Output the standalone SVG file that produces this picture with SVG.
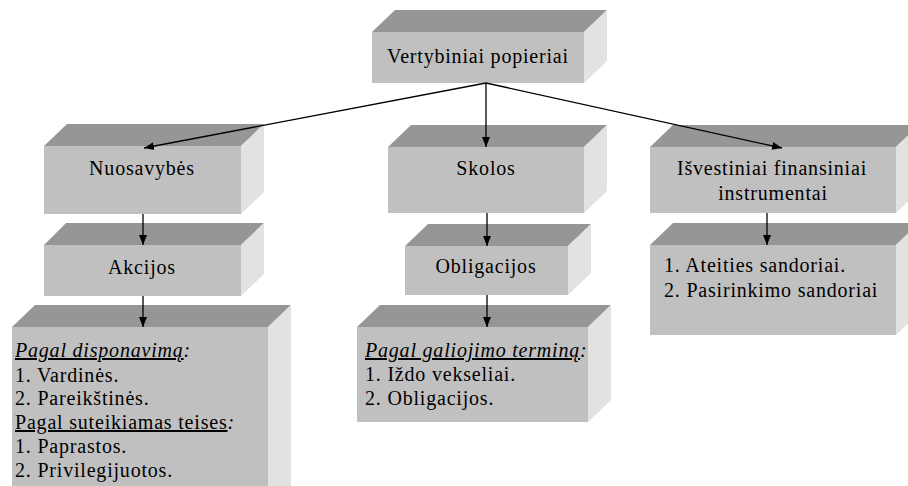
<svg xmlns="http://www.w3.org/2000/svg" width="908" height="486" viewBox="0 0 908 486" font-family="'Liberation Serif', serif">
<defs>
<style>
.front{fill:#c0c0c0}
.top{fill:#969696}
.side{fill:#e2e2e2}
text{font-family:'Liberation Serif','Times New Roman',serif;font-size:20px;fill:#000;letter-spacing:0.8px}
.c{text-anchor:middle}
.conn line{stroke:#000;stroke-width:1.3;marker-end:url(#ah)}
.u{text-decoration:underline}
.i{font-style:italic}
</style>
<marker id="ah" viewBox="0 0 10 10" refX="10" refY="5" markerWidth="10" markerHeight="10" markerUnits="userSpaceOnUse" orient="auto">
<path d="M0,1 L10,5 L0,9 Z" fill="#000"/>
</marker>
</defs>
<rect width="908" height="486" fill="#fff"/>

<g id="n-vertybiniai">
<polygon class="top" points="372,32 395,10 607,10 584,32"/>
<polygon class="side" points="584,32 607,10 607,61 584,83"/>
<rect class="front" x="372" y="32" width="212" height="51"/>
<text class="c" x="478" y="63">Vertybiniai popieriai</text>
</g>

<g id="n-nuosavybes">
<polygon class="top" points="44,146 67,124 264,124 241,146"/>
<polygon class="side" points="241,146 264,124 264,192 241,214"/>
<rect class="front" x="44" y="146" width="197" height="68"/>
<text class="c" x="142" y="175">Nuosavybės</text>
</g>

<g id="n-skolos">
<polygon class="top" points="388,147 411,125 607,125 584,147"/>
<polygon class="side" points="584,147 607,125 607,191 584,213"/>
<rect class="front" x="388" y="147" width="196" height="66"/>
<text class="c" x="486" y="175">Skolos</text>
</g>

<g id="n-isvestiniai">
<polygon class="top" points="650,147 673,125 919,125 896,147"/>
<polygon class="side" points="896,147 919,125 919,191 896,213"/>
<rect class="front" x="650" y="147" width="246" height="66"/>
<text class="c" x="772" y="175">Išvestiniai finansiniai</text>
<text class="c" x="773" y="200">instrumentai</text>
</g>

<g id="n-akcijos">
<polygon class="top" points="44,245 66,223 264,223 241,245"/>
<polygon class="side" points="241,245 264,223 264,274 241,296"/>
<rect class="front" x="44" y="245" width="197" height="51"/>
<text class="c" x="142" y="274">Akcijos</text>
</g>

<g id="n-obligacijos">
<polygon class="top" points="405,246 428,224 591,224 568,246"/>
<polygon class="side" points="568,246 591,224 591,273 568,295"/>
<rect class="front" x="405" y="246" width="163" height="49"/>
<text class="c" x="486" y="273">Obligacijos</text>
</g>

<g id="n-akcijos-rusys">
<polygon class="top" points="12,327 35,305 291,305 268,327"/>
<polygon class="side" points="268,327 291,305 291,486 268,486"/>
<rect class="front" x="12" y="327" width="256" height="170"/>
<text x="15" y="357"><tspan class="i u">Pagal disponavimą</tspan><tspan class="i">:</tspan></text>
<text x="15" y="382">1. Vardinės.</text>
<text x="15" y="405">2. Pareikštinės.</text>
<text x="15" y="429"><tspan class="u">Pagal suteikiamas teises</tspan><tspan class="i">:</tspan></text>
<text x="15" y="453">1. Paprastos.</text>
<text x="15" y="477">2. Privilegijuotos.</text>
</g>

<g id="n-obligaciju-rusys">
<polygon class="top" points="357,327 380,305 611,305 588,327"/>
<polygon class="side" points="588,327 611,305 611,400 588,422"/>
<rect class="front" x="357" y="327" width="231" height="95"/>
<text x="365" y="357"><tspan class="i u">Pagal galiojimo terminą</tspan><tspan class="i">:</tspan></text>
<text x="365" y="381">1. Iždo vekseliai.</text>
<text x="365" y="405">2. Obligacijos.</text>
</g>

<g id="n-sandoriai">
<polygon class="top" points="650,245 673,223 919,223 896,245"/>
<polygon class="side" points="896,245 919,223 919,313 896,335"/>
<rect class="front" x="650" y="245" width="246" height="90"/>
<text x="664" y="272">1. Ateities sandoriai.</text>
<text x="664" y="297">2. Pasirinkimo sandoriai</text>
</g>

<g id="connectors" class="conn">
<line x1="486" y1="83" x2="144" y2="148"/>
<line x1="486" y1="83" x2="486" y2="147"/>
<line x1="486" y1="83" x2="782" y2="148"/>
<line x1="143" y1="214" x2="143" y2="245"/>
<line x1="143" y1="296" x2="143" y2="327"/>
<line x1="487" y1="213" x2="487" y2="246"/>
<line x1="487" y1="295" x2="487" y2="327"/>
<line x1="767" y1="213" x2="767" y2="245"/>
</g>
</svg>
